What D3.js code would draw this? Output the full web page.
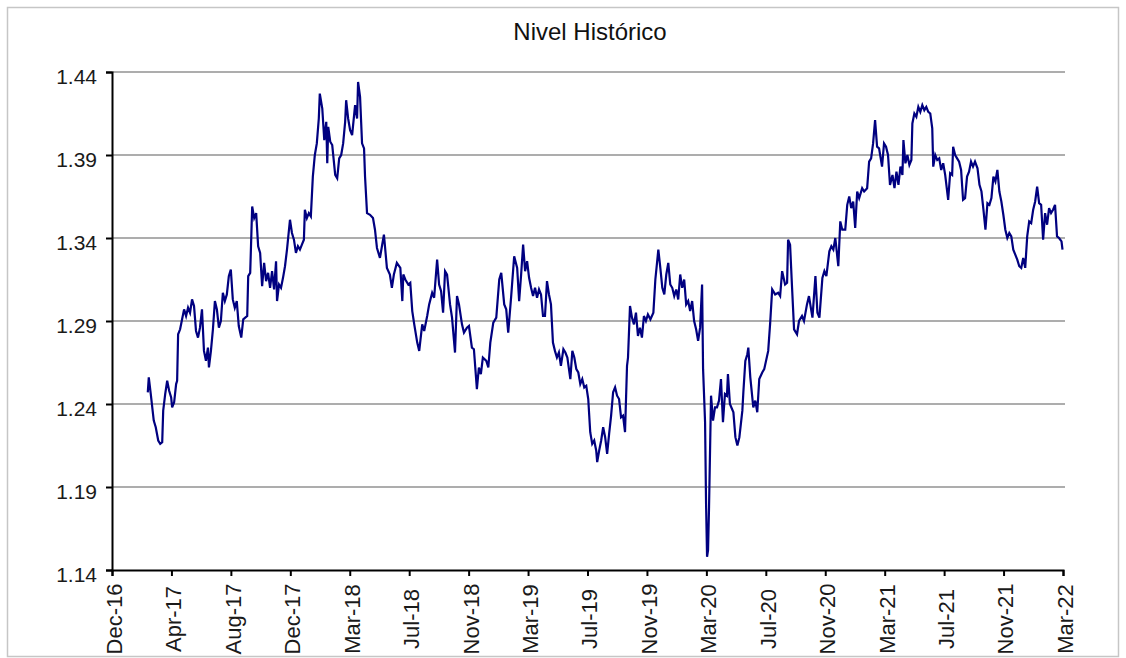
<!DOCTYPE html>
<html>
<head>
<meta charset="utf-8">
<script src="https://cdn.jsdelivr.net/npm/d3@7"></script>
<style>
  html, body { margin: 0; padding: 0; background: #fff; }
  svg { display: block; }
  text { font-family: "Liberation Sans", Arial, sans-serif; }
</style>
</head>
<body>
<svg id="chart" width="1126" height="658"></svg>
<script>
const title = "Nivel Histórico";
const yTicks = [1.14, 1.19, 1.24, 1.29, 1.34, 1.39, 1.44];
const xTickLabels = ["Dec-16","Apr-17","Aug-17","Dec-17","Mar-18","Jul-18","Nov-18","Mar-19","Jul-19","Nov-19","Mar-20","Jul-20","Nov-20","Mar-21","Jul-21","Nov-21","Mar-22"];
const axisStart = "2016-12-07";
const axisEnd = "2022-03-04";

const dates = [
"2017-02-17","2017-02-19","2017-02-23","2017-03-01","2017-03-05","2017-03-10","2017-03-14","2017-03-18","2017-03-20","2017-03-24",
"2017-03-28","2017-04-01","2017-04-05","2017-04-07","2017-04-11","2017-04-15","2017-04-17","2017-04-19","2017-04-23","2017-04-27",
"2017-05-01","2017-05-05","2017-05-09","2017-05-13","2017-05-17","2017-05-21","2017-05-25","2017-05-29","2017-06-02","2017-06-06",
"2017-06-10","2017-06-14","2017-06-18","2017-06-20","2017-06-24","2017-06-28","2017-07-02","2017-07-06","2017-07-10","2017-07-14",
"2017-07-18","2017-07-22","2017-07-26","2017-07-30","2017-08-03","2017-08-07","2017-08-11","2017-08-15","2017-08-19","2017-08-24",
"2017-08-28","2017-09-01","2017-09-05","2017-09-07","2017-09-11","2017-09-15","2017-09-19","2017-09-23","2017-09-27","2017-10-01",
"2017-10-05","2017-10-09","2017-10-13","2017-10-17","2017-10-21","2017-10-25","2017-10-29","2017-11-02","2017-11-04","2017-11-08",
"2017-11-12","2017-11-16","2017-11-20","2017-11-24","2017-11-30","2017-12-04","2017-12-08","2017-12-12","2017-12-16","2017-12-20",
"2017-12-24","2017-12-28","2017-12-30","2018-01-03","2018-01-07","2018-01-11","2018-01-15","2018-01-19","2018-01-23","2018-01-27",
"2018-01-29","2018-02-03","2018-02-07","2018-02-11","2018-02-13","2018-02-15","2018-02-19","2018-02-23","2018-03-01","2018-03-05",
"2018-03-09","2018-03-13","2018-03-17","2018-03-21","2018-03-23","2018-03-27","2018-03-31","2018-04-04","2018-04-10","2018-04-14",
"2018-04-16","2018-04-20","2018-04-24","2018-04-28","2018-04-30","2018-05-04","2018-05-10","2018-05-16","2018-05-20","2018-05-24",
"2018-05-30","2018-06-03","2018-06-07","2018-06-13","2018-06-19","2018-06-23","2018-06-27","2018-07-03","2018-07-10","2018-07-14",
"2018-07-16","2018-07-20","2018-07-26","2018-07-30","2018-08-03","2018-08-07","2018-08-13","2018-08-17","2018-08-23","2018-08-27",
"2018-09-02","2018-09-06","2018-09-12","2018-09-16","2018-09-22","2018-09-26","2018-09-30","2018-10-04","2018-10-08","2018-10-12",
"2018-10-18","2018-10-22","2018-10-28","2018-11-01","2018-11-05","2018-11-11","2018-11-15","2018-11-21","2018-11-25","2018-12-01",
"2018-12-05","2018-12-11","2018-12-15","2018-12-19","2018-12-23","2018-12-30","2019-01-03","2019-01-07","2019-01-13","2019-01-19",
"2019-01-25","2019-01-29","2019-02-04","2019-02-08","2019-02-12","2019-02-18","2019-02-24","2019-03-02","2019-03-06","2019-03-10",
"2019-03-14","2019-03-18","2019-03-22","2019-03-26","2019-03-30","2019-04-03","2019-04-07","2019-04-11","2019-04-15","2019-04-19",
"2019-04-23","2019-04-27","2019-05-01","2019-05-05","2019-05-09","2019-05-13","2019-05-17","2019-05-21","2019-05-25","2019-05-29",
"2019-06-03","2019-06-07","2019-06-11","2019-06-17","2019-06-21","2019-06-25","2019-06-29","2019-07-03","2019-07-07","2019-07-11",
"2019-07-15","2019-07-19","2019-07-23","2019-07-27","2019-07-31","2019-08-04","2019-08-08","2019-08-10","2019-08-14","2019-08-18",
"2019-08-22","2019-08-26","2019-08-30","2019-09-03","2019-09-07","2019-09-11","2019-09-15","2019-09-19","2019-09-23","2019-09-27",
"2019-10-01","2019-10-05","2019-10-09","2019-10-11","2019-10-15","2019-10-19","2019-10-23","2019-10-27","2019-10-31","2019-11-04",
"2019-11-08","2019-11-12","2019-11-16","2019-11-20","2019-11-25","2019-12-01","2019-12-05","2019-12-09","2019-12-11","2019-12-15",
"2019-12-19","2019-12-23","2019-12-27","2019-12-31","2020-01-04","2020-01-08","2020-01-12","2020-01-16","2020-01-20","2020-01-24",
"2020-01-28","2020-02-01","2020-02-05","2020-02-09","2020-02-13","2020-02-17","2020-02-21","2020-02-25","2020-02-29","2020-03-04",
"2020-03-08","2020-03-10","2020-03-14","2020-03-16","2020-03-18","2020-03-20","2020-03-22","2020-03-26","2020-03-30","2020-04-03",
"2020-04-07","2020-04-11","2020-04-15","2020-04-19","2020-04-23","2020-04-27","2020-04-29","2020-05-03","2020-05-10","2020-05-14",
"2020-05-18","2020-05-22","2020-05-28","2020-05-30","2020-06-03","2020-06-07","2020-06-09","2020-06-13","2020-06-19","2020-06-23",
"2020-06-27","2020-07-01","2020-07-07","2020-07-11","2020-07-19","2020-07-23","2020-07-27","2020-08-02","2020-08-08","2020-08-12",
"2020-08-16","2020-08-22","2020-08-26","2020-08-28","2020-09-01","2020-09-05","2020-09-09","2020-09-15","2020-09-19","2020-09-25",
"2020-09-29","2020-10-05","2020-10-09","2020-10-16","2020-10-22","2020-10-26","2020-10-30","2020-11-05","2020-11-09","2020-11-13",
"2020-11-19","2020-11-23","2020-11-27","2020-12-01","2020-12-07","2020-12-11","2020-12-15","2020-12-21","2020-12-25","2020-12-29",
"2021-01-02","2021-01-06","2021-01-10","2021-01-14","2021-01-18","2021-01-24","2021-01-28","2021-02-03","2021-02-07","2021-02-11",
"2021-02-15","2021-02-19","2021-02-23","2021-02-27","2021-03-05","2021-03-09","2021-03-13","2021-03-17","2021-03-21","2021-03-26",
"2021-03-30","2021-04-03","2021-04-07","2021-04-11","2021-04-15","2021-04-17","2021-04-21","2021-04-25","2021-04-29","2021-05-03",
"2021-05-05","2021-05-09","2021-05-13","2021-05-17","2021-05-21","2021-05-25","2021-05-29","2021-06-02","2021-06-06","2021-06-10",
"2021-06-14","2021-06-16","2021-06-20","2021-06-24","2021-06-28","2021-07-02","2021-07-06","2021-07-10","2021-07-16","2021-07-20",
"2021-07-24","2021-07-26","2021-07-30","2021-08-03","2021-08-07","2021-08-11","2021-08-15","2021-08-19","2021-08-23","2021-08-27",
"2021-08-31","2021-09-04","2021-09-08","2021-09-13","2021-09-17","2021-09-21","2021-09-25","2021-09-29","2021-10-03","2021-10-07",
"2021-10-11","2021-10-15","2021-10-19","2021-10-23","2021-10-27","2021-10-31","2021-11-04","2021-11-08","2021-11-12","2021-11-16",
"2021-11-20","2021-11-24","2021-11-28","2021-12-02","2021-12-06","2021-12-10","2021-12-14","2021-12-18","2021-12-22","2021-12-26",
"2021-12-30","2022-01-03","2022-01-07","2022-01-11","2022-01-15","2022-01-19","2022-01-23","2022-01-27","2022-01-31","2022-02-04",
"2022-02-08","2022-02-12","2022-02-16","2022-02-20","2022-02-24","2022-03-01","2022-03-03"
];

const rates = [
1.247,1.256,1.246,1.230,1.226,1.218,1.216,1.217,1.236,1.246,
1.254,1.248,1.244,1.238,1.241,1.252,1.254,1.282,1.285,1.291,
1.297,1.293,1.298,1.295,1.303,1.299,1.284,1.280,1.286,1.297,
1.272,1.266,1.274,1.262,1.272,1.285,1.302,1.297,1.286,1.290,
1.307,1.302,1.306,1.317,1.321,1.303,1.298,1.302,1.287,1.280,
1.291,1.292,1.293,1.317,1.319,1.359,1.352,1.355,1.335,1.331,
1.311,1.325,1.314,1.319,1.310,1.320,1.309,1.326,1.302,1.312,
1.310,1.316,1.323,1.333,1.351,1.343,1.339,1.331,1.335,1.333,
1.336,1.339,1.357,1.352,1.355,1.353,1.377,1.390,1.397,1.412,
1.427,1.418,1.399,1.410,1.385,1.407,1.398,1.396,1.378,1.376,
1.388,1.390,1.397,1.410,1.423,1.412,1.405,1.402,1.420,1.412,
1.434,1.425,1.397,1.394,1.377,1.355,1.354,1.352,1.345,1.334,
1.328,1.335,1.342,1.322,1.318,1.310,1.318,1.325,1.322,1.302,
1.318,1.315,1.312,1.313,1.296,1.288,1.277,1.272,1.288,1.284,
1.293,1.300,1.307,1.304,1.327,1.312,1.308,1.295,1.320,1.318,
1.300,1.292,1.271,1.305,1.300,1.288,1.283,1.286,1.287,1.274,
1.273,1.249,1.262,1.258,1.268,1.266,1.262,1.277,1.289,1.292,
1.315,1.319,1.300,1.297,1.283,1.305,1.329,1.322,1.302,1.318,
1.336,1.320,1.326,1.316,1.310,1.305,1.310,1.304,1.309,1.306,
1.293,1.293,1.314,1.306,1.300,1.277,1.272,1.268,1.271,1.263,
1.273,1.271,1.268,1.255,1.272,1.268,1.261,1.259,1.252,1.255,
1.250,1.251,1.243,1.223,1.216,1.218,1.212,1.205,1.212,1.218,
1.226,1.220,1.210,1.222,1.233,1.247,1.250,1.245,1.243,1.232,
1.233,1.223,1.263,1.268,1.299,1.292,1.288,1.295,1.281,1.286,
1.280,1.293,1.290,1.294,1.291,1.295,1.315,1.327,1.333,1.322,
1.310,1.306,1.318,1.325,1.312,1.310,1.305,1.309,1.303,1.318,
1.310,1.315,1.300,1.302,1.296,1.302,1.290,1.285,1.278,1.286,
1.312,1.261,1.229,1.180,1.148,1.152,1.178,1.245,1.230,1.238,
1.238,1.242,1.255,1.229,1.246,1.245,1.258,1.240,1.235,1.220,
1.215,1.220,1.236,1.247,1.266,1.270,1.274,1.256,1.238,1.242,
1.235,1.255,1.259,1.261,1.272,1.289,1.309,1.306,1.307,1.305,
1.320,1.312,1.313,1.339,1.336,1.310,1.285,1.282,1.290,1.293,
1.290,1.300,1.305,1.292,1.317,1.295,1.292,1.316,1.320,1.317,
1.332,1.335,1.333,1.340,1.323,1.350,1.345,1.345,1.360,1.365,
1.358,1.362,1.346,1.368,1.364,1.370,1.368,1.370,1.386,1.388,
1.397,1.411,1.395,1.394,1.383,1.397,1.395,1.390,1.372,1.378,
1.370,1.380,1.372,1.383,1.378,1.399,1.385,1.390,1.384,1.387,
1.409,1.415,1.413,1.419,1.416,1.420,1.417,1.419,1.416,1.415,
1.406,1.383,1.390,1.387,1.388,1.381,1.385,1.378,1.363,1.379,
1.378,1.395,1.390,1.388,1.386,1.381,1.363,1.364,1.377,1.380,
1.386,1.383,1.386,1.382,1.372,1.368,1.357,1.345,1.361,1.360,
1.364,1.377,1.374,1.381,1.368,1.362,1.354,1.345,1.340,1.343,
1.341,1.333,1.330,1.327,1.323,1.322,1.328,1.322,1.341,1.350,
1.349,1.357,1.362,1.371,1.361,1.360,1.339,1.355,1.348,1.358,
1.355,1.357,1.360,1.341,1.340,1.338,1.333
];

const parse = d3.timeParse("%Y-%m-%d");
const series = dates.map((d, i) => ({ date: parse(d), value: rates[i] }));

const svg = d3.select("#chart");
const plot = { left: 112, right: 1063, top: 72, bottom: 570 };

// outer frame
svg.append("rect")
  .attr("x", 7.5).attr("y", 7.5)
  .attr("width", 1111).attr("height", 649)
  .attr("fill", "#fff").attr("stroke", "#c6c6c6").attr("stroke-width", 1.5);

const t0 = parse(axisStart), t1 = parse(axisEnd);
const x = d3.scaleTime().domain([t0, t1]).range([plot.left, plot.right]);
const y = d3.scaleLinear().domain([yTicks[0], yTicks[yTicks.length - 1]]).range([plot.bottom, plot.top]);

// evenly spaced tick dates across the axis (one per label)
const xTickDates = xTickLabels.map((_, i) =>
  new Date(+t0 + (t1 - t0) * i / (xTickLabels.length - 1)));

// title
svg.append("text")
  .attr("x", 590).attr("y", 40)
  .attr("text-anchor", "middle")
  .attr("font-size", 24)
  .attr("fill", "#111")
  .text(title);

// gridlines
svg.append("g").selectAll("line")
  .data(yTicks.slice(1))
  .join("line")
  .attr("x1", plot.left).attr("x2", plot.right + 2)
  .attr("y1", d => y(d)).attr("y2", d => y(d))
  .attr("stroke", "#929292").attr("stroke-width", 1.6);

// y axis
const gy = svg.append("g")
  .attr("transform", `translate(${plot.left},0)`)
  .call(d3.axisLeft(y).tickValues(yTicks).tickSize(6).tickPadding(9).tickFormat(d3.format(".2f")));
gy.select(".domain").attr("stroke", "#000").attr("stroke-width", 2);
gy.selectAll(".tick line").attr("stroke", "#000").attr("stroke-width", 2);
gy.selectAll(".tick text")
  .attr("font-size", 21).attr("fill", "#1a1a1a")
  .attr("font-family", "'Liberation Sans', Arial, sans-serif")
  .attr("dy", "0.53em");

// x axis
const gx = svg.append("g")
  .attr("transform", `translate(0,${plot.bottom})`)
  .call(d3.axisBottom(x).tickValues(xTickDates).tickSize(6).tickFormat((d, i) => xTickLabels[i]));
gx.select(".domain").attr("stroke", "#000").attr("stroke-width", 2);
gx.selectAll(".tick line").attr("stroke", "#000").attr("stroke-width", 2);
gx.selectAll(".tick text")
  .attr("font-size", 22).attr("fill", "#1a1a1a")
  .attr("font-family", "'Liberation Sans', Arial, sans-serif")
  .attr("x", 0).attr("y", 0).attr("dy", "0.36em")
  .attr("text-anchor", "middle")
  .attr("transform", "translate(1.5,49) rotate(-90)");

// series line
const line = d3.line().x(d => x(d.date)).y(d => y(d.value));
svg.append("path")
  .datum(series)
  .attr("fill", "none")
  .attr("stroke", "#000080")
  .attr("stroke-width", 2.2)
  .attr("stroke-linejoin", "miter")
  .attr("d", line);
</script>
</body>
</html>
